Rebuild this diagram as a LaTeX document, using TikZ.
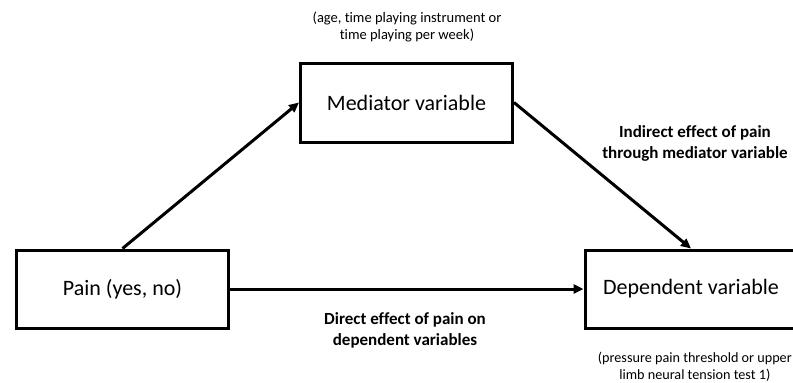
\documentclass[tikz,border=0pt]{standalone}
\usepackage{fontspec}
\setmainfont{Carlito}[Ligatures=NoCommon]
\usetikzlibrary{arrows.meta}

\tikzset{
    varbox/.style={draw, line width=3pt, minimum width=212pt, minimum height=78pt, font=\fontsize{22}{26}\selectfont},
    effect/.style={font=\fontsize{17}{21}\selectfont\bfseries, align=center, inner sep=0pt},
    remark/.style={font=\fontsize{14.5}{17}\selectfont, align=center, inner sep=0pt},
    arr/.style={line width=3pt, -{Triangle[length=10pt,width=9pt]}}
}

\begin{document}
\begin{tikzpicture}[x=1pt, y=-1pt]
    \useasboundingbox (0,0) rectangle (793,383);
    \clip (0,0) rectangle (793,383);

    % Các hộp
    \node[varbox] (pain) at (122.5, 289) {Pain (yes, no)};
    \node[varbox, minimum height=79pt] (med) at (406.5, 102.5) {Mediator variable};
    \node[varbox] (dep) at (691, 289) {Dependent variable};

    % Ghi chú
    \node[remark] (medn) at (407, 27) {(age, time playing instrument or\\time playing per week)};
    \node[remark, font=\fontsize{14.2}{16.5}\selectfont, anchor=east] (depn) at (792, 367) {(pressure pain threshold or upper\\limb neural tension test 1)};

    % Các mũi tên
    \draw [arr] (pain.north)--(med.west);
    \draw [arr] (med.east)--(dep.north);
    \draw [arr] (pain.east)--(dep.west);

    \node[effect] (indir) at (695, 143) {Indirect effect of pain\\through mediator variable};
    \node[effect] (dir) at (405, 330) {Direct effect of pain on\\dependent variables};
\end{tikzpicture}
\end{document}
